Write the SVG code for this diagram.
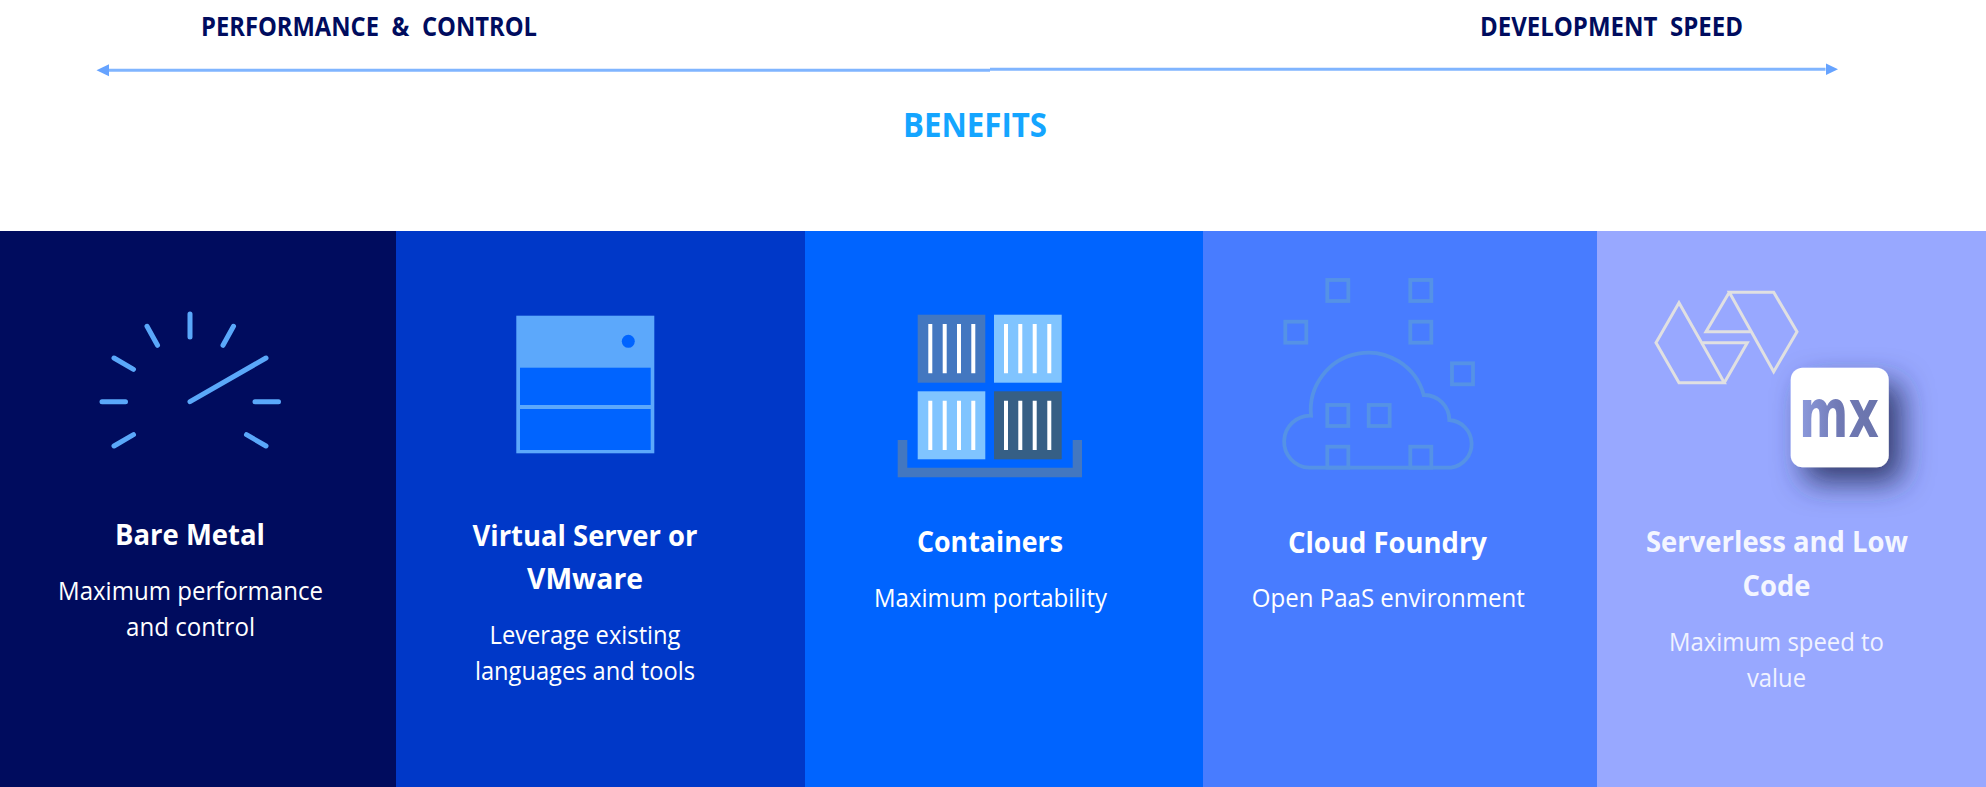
<svg xmlns="http://www.w3.org/2000/svg" width="1986" height="787" viewBox="0 0 1986 787">
<style>
text{font-family:"Open Sans","Noto Sans","Liberation Sans",sans-serif;text-anchor:middle}
.head{font-size:26px;font-weight:700;fill:#000c5e;word-spacing:7px}
.ben{font-size:34px;font-weight:700;fill:#14a5ff}
.t{font-size:29px;font-weight:700;fill:#fff}
.b{font-size:25px;font-weight:400;fill:#fff}
.t5{fill:#f4f6ff}.b5{fill:#f0f2ff}
.tick{stroke:#5aa8fa;stroke-width:5;stroke-linecap:round;fill:none}
.bar{fill:#fff}
.sq{fill:none;stroke:#5592e6;stroke-width:3.8}
.hex{fill:none;stroke:#e0e0e2;stroke-width:3;stroke-linejoin:miter}
.line{stroke:#80b5ff;stroke-width:3;fill:none}
</style>
<defs>
<marker id="ah" markerUnits="userSpaceOnUse" markerWidth="13" markerHeight="13" refX="0" refY="6.5" orient="auto-start-reverse"><path d="M0 0.5L12.5 6.5L0 12.5Z" fill="#66a3ff"/></marker>
<linearGradient id="mxg" x1="0" x2="1" y1="0" y2="0"><stop offset="0" stop-color="#8d9bde"/><stop offset="0.5" stop-color="#7079b4"/><stop offset="1" stop-color="#6a74ac"/></linearGradient>
<filter id="sh" x="-50%" y="-50%" width="210%" height="210%"><feDropShadow dx="13" dy="15" stdDeviation="15" flood-color="#2a3260" flood-opacity="0.9"/></filter>
</defs>
<rect width="1986" height="787" fill="#fff"/>
<g id="connectors">
<path class="line" d="M990 70.3H109" marker-end="url(#ah)"/>
<path class="line" d="M990 69.3H1825.5" marker-end="url(#ah)"/>
</g>
<g id="axis-labels">
<text class="head" x="369" y="36" textLength="336" lengthAdjust="spacingAndGlyphs">PERFORMANCE &amp; CONTROL</text>
<text class="head" x="1611.5" y="36" textLength="263" lengthAdjust="spacingAndGlyphs">DEVELOPMENT SPEED</text>
<text class="ben" x="975" y="136.5" textLength="144" lengthAdjust="spacingAndGlyphs">BENEFITS</text>
</g>
<g id="bare-metal">
<rect x="0" y="231" width="396" height="556" fill="#000c5e"/>
<path class="tick" d="M190 314V337M147 326.3L157.5 345.3M233.5 326.3L223 345.3M114 358L133.5 369.3M114 446L133.5 434.7M266 446L246.5 434.7M102 401.7H125.5M255 401.7H278.5M190 401.7L266 358"/>
<text class="t" x="190" y="545" textLength="150" lengthAdjust="spacingAndGlyphs">Bare Metal</text>
<text class="b" x="190.5" y="600" textLength="265" lengthAdjust="spacingAndGlyphs">Maximum performance</text>
<text class="b" x="190.5" y="636" textLength="129" lengthAdjust="spacingAndGlyphs">and control</text>
</g>
<g id="virtual-server">
<rect x="396" y="231" width="409" height="556" fill="#0038c8"/>
<rect x="516.3" y="315.7" width="138" height="137.6" fill="#5ca8fb"/>
<rect x="520" y="367.7" width="130.7" height="37.3" fill="#0064ff"/>
<rect x="520" y="409" width="130.7" height="41" fill="#0064ff"/>
<circle cx="628.3" cy="341.3" r="6.5" fill="#0064ff"/>
<text class="t" x="585" y="545.7" textLength="225" lengthAdjust="spacingAndGlyphs">Virtual Server or</text>
<text class="t" x="585" y="589.3" textLength="116" lengthAdjust="spacingAndGlyphs">VMware</text>
<text class="b" x="585" y="644" textLength="191" lengthAdjust="spacingAndGlyphs">Leverage existing</text>
<text class="b" x="585" y="680" textLength="220" lengthAdjust="spacingAndGlyphs">languages and tools</text>
</g>
<g id="containers">
<rect x="805" y="231" width="398" height="556" fill="#0064ff"/>
<path fill="#4377c0" d="M897.7 440H907.3V467.7H1072.7V440H1082V477.3H897.7Z"/>
<rect x="917.7" y="314.7" width="67.6" height="68" fill="#4377c0"/>
<rect x="994" y="314.7" width="67.7" height="68" fill="#80c4ff"/>
<rect x="917.7" y="391.3" width="67.6" height="68" fill="#80c4ff"/>
<rect x="994" y="391.3" width="67.7" height="68" fill="#365f85"/>
<path class="bar" d="M928.3 324h4v49.3h-4zM942.7 324h4v49.3h-4zM957 324h4v49.3h-4zM971.3 324h4v49.3h-4zM1004 324h4v49.3h-4zM1018.3 324h4v49.3h-4zM1032.7 324h4v49.3h-4zM1047.3 324h4v49.3h-4zM928.3 400.7h4v49.3h-4zM942.7 400.7h4v49.3h-4zM957 400.7h4v49.3h-4zM971.3 400.7h4v49.3h-4zM1004 400.7h4v49.3h-4zM1018.3 400.7h4v49.3h-4zM1032.7 400.7h4v49.3h-4zM1047.3 400.7h4v49.3h-4z"/>
<text class="t" x="990" y="552.3" textLength="146" lengthAdjust="spacingAndGlyphs">Containers</text>
<text class="b" x="990.5" y="607.3" textLength="233" lengthAdjust="spacingAndGlyphs">Maximum portability</text>
</g>
<g id="cloud-foundry">
<rect x="1203" y="231" width="394" height="556" fill="#487cff"/>
<path class="sq" transform="translate(1 0)" d="M1308.3 467.7H1450A24 24 0 0 0 1448.3 420A25 25 0 0 0 1422.7 395A57.5 57.5 0 0 0 1310 415.7A26 26 0 0 0 1308.3 467.7Z"/>
<rect class="sq" x="1327.3" y="280" width="21" height="21"/>
<rect class="sq" x="1410.3" y="280" width="21" height="21"/>
<rect class="sq" x="1285.3" y="321.7" width="21" height="21"/>
<rect class="sq" x="1410.3" y="321.7" width="21" height="21"/>
<rect class="sq" x="1452" y="363.3" width="21" height="21"/>
<rect class="sq" x="1327.3" y="405" width="21" height="21"/>
<rect class="sq" x="1368.7" y="405" width="21" height="21"/>
<rect class="sq" x="1327.3" y="446.7" width="21" height="21"/>
<rect class="sq" x="1410.3" y="446.7" width="21" height="21"/>
<text class="t" x="1387.5" y="552.7" textLength="199" lengthAdjust="spacingAndGlyphs">Cloud Foundry</text>
<text class="b" x="1388.3" y="607.3" textLength="273" lengthAdjust="spacingAndGlyphs">Open PaaS environment</text>
</g>
<g id="serverless">
<rect x="1597" y="231" width="389" height="556" fill="#98a8ff"/>
<path class="hex" d="M1679 302.7L1656 342.7L1679 382.7H1724.3ZM1702.7 342.7H1747.3L1724.3 382.7"/>
<path class="hex" d="M1729.3 292.3H1773.7L1797 331.7L1773.7 371.7ZM1729.3 292.3L1706 331.7H1751.7"/>
<rect x="1790.7" y="367.7" width="98" height="99.6" rx="12" fill="#fff" filter="url(#sh)"/>
<text x="1839" y="437.3" style="font-family:'DejaVu Sans',sans-serif;font-size:68px;font-weight:700;fill:url(#mxg)" textLength="80" lengthAdjust="spacingAndGlyphs">mx</text>
<text class="t t5" x="1777" y="552.3" textLength="262" lengthAdjust="spacingAndGlyphs">Serverless and Low</text>
<text class="t t5" x="1776.5" y="595.7" textLength="68" lengthAdjust="spacingAndGlyphs">Code</text>
<text class="b b5" x="1776.5" y="650.7" textLength="215" lengthAdjust="spacingAndGlyphs">Maximum speed to</text>
<text class="b b5" x="1776.5" y="687.3" textLength="59" lengthAdjust="spacingAndGlyphs">value</text>
</g>
</svg>
